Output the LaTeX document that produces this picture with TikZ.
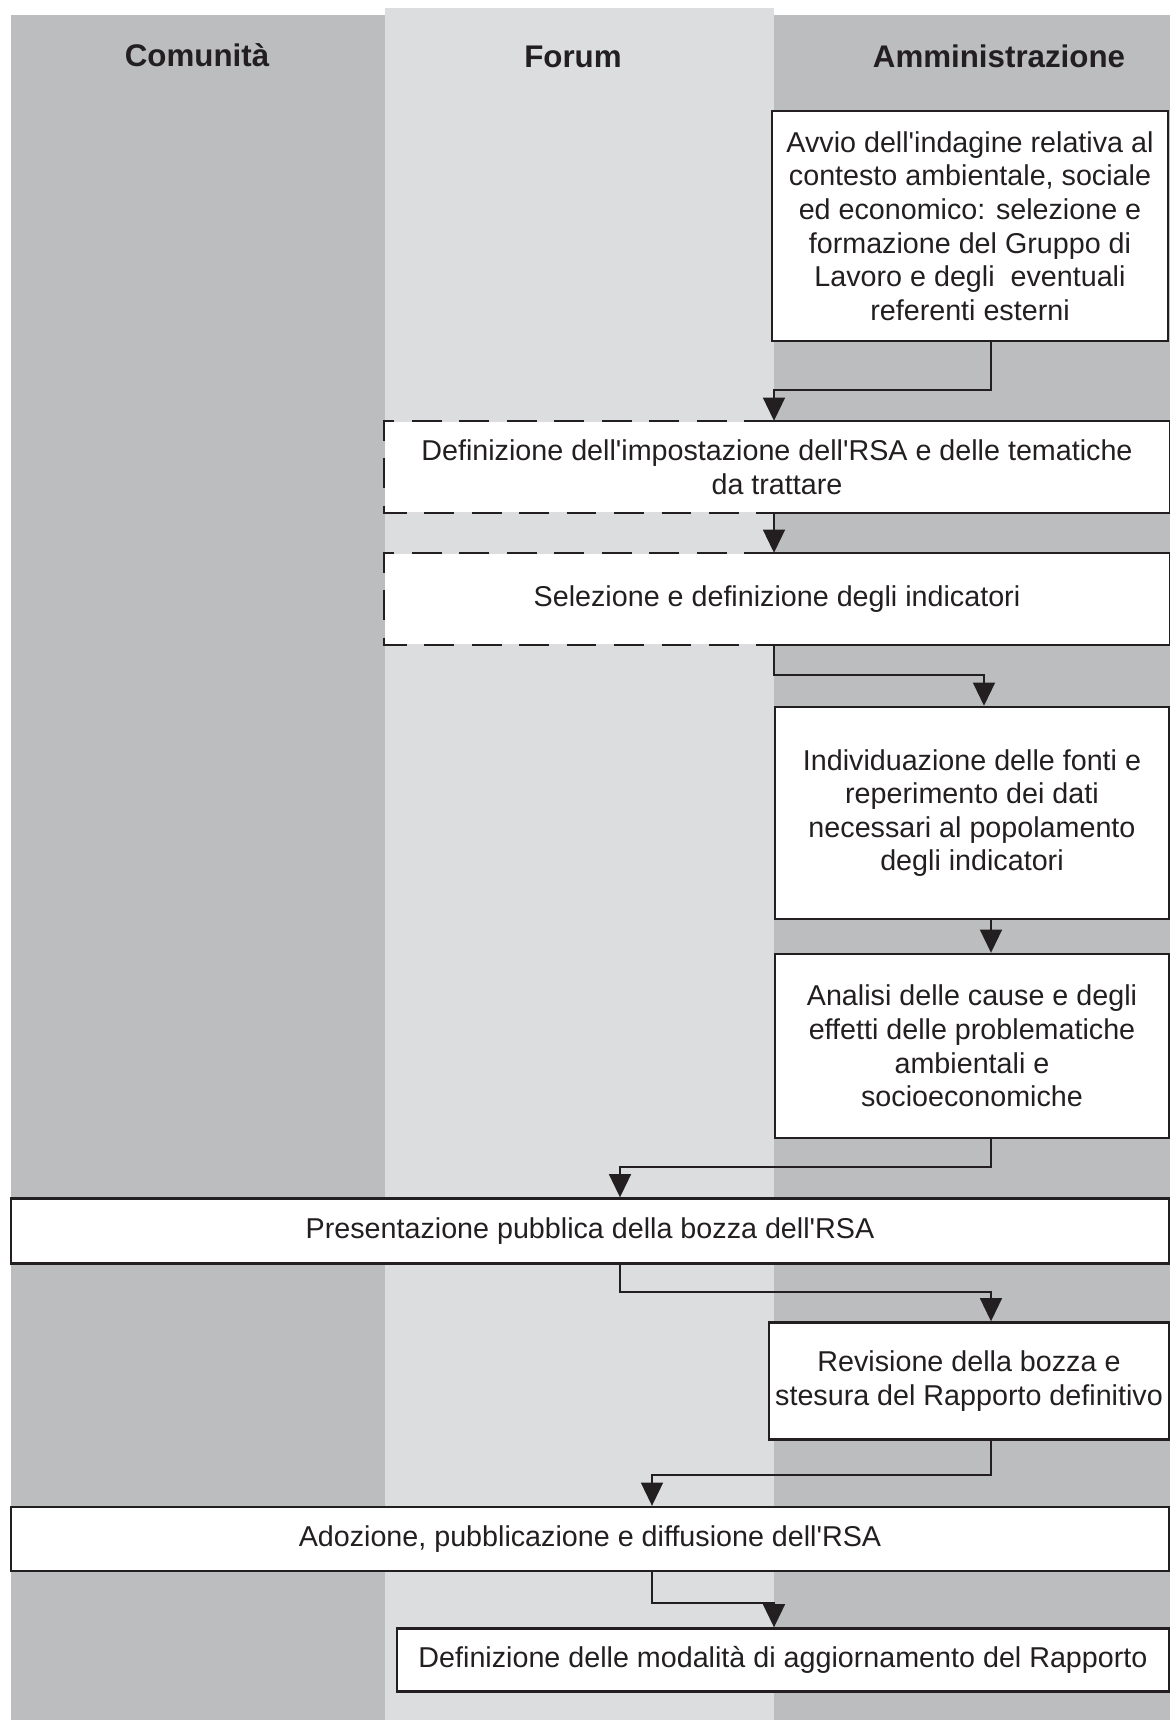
\documentclass[tikz,border=0pt]{standalone}
\usepackage{fontspec}
\setmainfont{Liberation Sans}[Ligatures=TeXOff]
\usetikzlibrary{arrows.meta}
\definecolor{laneA}{RGB}{188,189,191}
\definecolor{laneB}{RGB}{220,221,223}
\definecolor{ink}{RGB}{35,31,32}
\begin{document}
\begin{tikzpicture}[x=0.01cm,y=-0.01cm,
    box/.style={draw=ink,fill=white,line width=0.65pt,inner sep=0pt,align=center,text=ink,font=\fontsize{8.16pt}{9.56pt}\selectfont},
    openbox/.style={box,draw=none},
    dashside/.style={draw=ink,line width=0.65pt,dash pattern=on 8.5pt off 5pt},
    solidside/.style={draw=ink,line width=0.65pt},
    flow/.style={draw=ink,line width=0.65pt,-{Triangle[length=6.6pt,width=6.2pt]}},
    lanetitle/.style={text=ink,font=\fontsize{8.9pt}{10pt}\selectfont\bfseries}]
      \useasboundingbox (0,0) rectangle (1170,1720);
      \fill[laneA] (11,15) rectangle (385,1720);
      \fill[laneB] (385,8) rectangle (774,1720);
      \fill[laneA] (774,15) rectangle (1170,1720);
      \node[lanetitle] (comu) at (197,55) {Comunità};
      \node[lanetitle] (forum) at (573,57) {Forum};
      \node[lanetitle] (amm) at (999,56) {Amministrazione};
      \coordinate (mid) at (774,0);
      \coordinate (amx) at (991,0);
      \coordinate (amy) at (984,0);
      \coordinate (px) at (620,0);
      \coordinate (qx) at (652,0);
      \node[box,minimum width=3.96cm,minimum height=2.30cm] (avvio) at (970,226) {Avvio dell'indagine relativa al\\contesto ambientale, sociale\\ed economico: selezione e\\formazione del Gruppo di\\Lavoro e degli~ eventuali\\referenti esterni};
      \node[openbox,minimum width=7.83cm,minimum height=0.90cm] (impost) at (777,467) {Definizione dell'impostazione dell'RSA e delle tematiche\\da trattare};
      \node[openbox,minimum width=7.83cm,minimum height=0.90cm] (selez) at (777,599) {Selezione e definizione degli indicatori};
      \node[box,minimum width=3.94cm,minimum height=2.12cm] (fonti) at (972,813) {Individuazione delle fonti e\\reperimento dei dati\\necessari al popolamento\\degli indicatori};
      \node[box,minimum width=3.94cm,minimum height=1.84cm] (analisi) at (972,1046) {Analisi delle cause e degli\\effetti delle problematiche\\ambientali e\\socioeconomiche};
      \node[box,minimum width=11.58cm,minimum height=0.65cm] (present) at (590,1231) {Presentazione pubblica della bozza dell'RSA};
      \node[box,minimum width=4.00cm,minimum height=1.17cm] (revis) at (969,1381) {Revisione della bozza e\\stesura del Rapporto definitivo};
      \node[box,minimum width=11.58cm,minimum height=0.64cm] (adoz) at (590,1539) {Adozione, pubblicazione e diffusione dell'RSA};
      \node[box,minimum width=7.72cm,minimum height=0.63cm] (aggiorn) at (783,1660) {Definizione delle modalità di aggiornamento del Rapporto};
      \draw[dashside] (impost.north -| mid) -- (impost.north west) -- (impost.south west) -- (impost.south -| mid);
      \draw[solidside] (impost.north -| mid) -- (impost.north east) -- (impost.south east) -- (impost.south -| mid);
      \draw[dashside] (selez.north -| mid) -- (selez.north west) -- (selez.south west) -- (selez.south -| mid);
      \draw[solidside] (selez.north -| mid) -- (selez.north east) -- (selez.south east) -- (selez.south -| mid);
      \draw[flow] (avvio.south -| amx) -- ++(0,48) -| (impost.north -| mid);
      \draw[flow] (impost.south -| mid) -- (selez.north -| mid);
      \draw[flow] (selez.south -| mid) -- ++(0,30) -| (fonti.north -| amy);
      \draw[flow] (fonti.south -| amx) -- (analisi.north -| amx);
      \draw[flow] (analisi.south -| amx) -- ++(0,28) -| (present.north -| px);
      \draw[flow] (present.south -| px) -- ++(0,27) -| (revis.north -| amx);
      \draw[flow] (revis.south -| amx) -- ++(0,34) -| (adoz.north -| qx);
      \draw[flow] (adoz.south -| qx) -- ++(0,31) -| (aggiorn.north -| mid);
\end{tikzpicture}
\end{document}
